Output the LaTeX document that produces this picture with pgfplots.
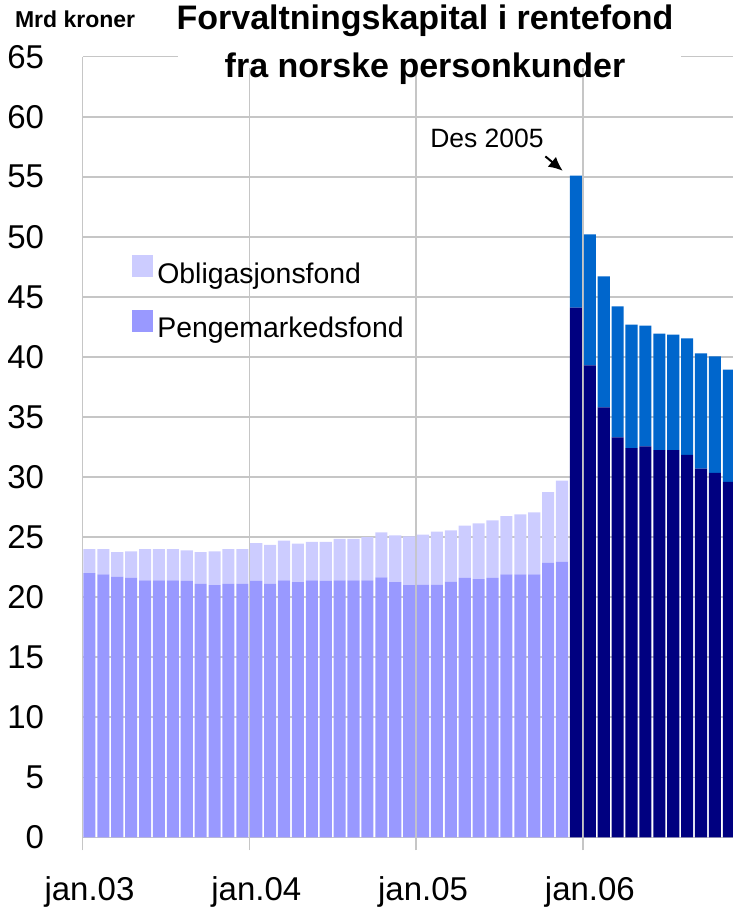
\documentclass[border=0pt]{standalone}
\usepackage{pgfplots}
\pgfplotsset{compat=1.18}
\usepackage{pgfplotstable}
\usepackage{fontspec}
\setmainfont{Liberation Sans}
\usetikzlibrary{arrows.meta}

\definecolor{oblLight}{HTML}{CCCCFF}
\definecolor{pmLight}{HTML}{9999FF}
\definecolor{pmDark}{HTML}{000080}
\definecolor{oblDark}{HTML}{0066CC}
\definecolor{gridgray}{HTML}{C6C6C6}

% month index (0 = jan.03), pengemarked / obligasjon, before and from Des 2005
\pgfplotstableread{
x  pma   obla  pmb   oblb
0  22.0  2.0   0     0
1  21.9  2.1   0     0
2  21.7  2.05  0     0
3  21.6  2.2   0     0
4  21.4  2.6   0     0
5  21.4  2.6   0     0
6  21.4  2.6   0     0
7  21.35 2.55  0     0
8  21.1  2.65  0     0
9  21.0  2.8   0     0
10 21.1  2.9   0     0
11 21.1  2.9   0     0
12 21.35 3.15  0     0
13 21.1  3.25  0     0
14 21.4  3.3   0     0
15 21.25 3.2   0     0
16 21.4  3.2   0     0
17 21.35 3.25  0     0
18 21.4  3.45  0     0
19 21.4  3.45  0     0
20 21.4  3.6   0     0
21 21.65 3.75  0     0
22 21.25 3.9   0     0
23 21.0  4.05  0     0
24 21.05 4.15  0     0
25 21.05 4.4   0     0
26 21.3  4.25  0     0
27 21.6  4.35  0     0
28 21.5  4.65  0     0
29 21.6  4.8   0     0
30 21.9  4.85  0     0
31 21.9  5.0   0     0
32 21.9  5.15  0     0
33 22.85 5.9   0     0
34 22.95 6.75  0     0
35 0     0     44.1  11.0
36 0     0     39.3  10.9
37 0     0     35.8  10.9
38 0     0     33.3  10.9
39 0     0     32.4  10.3
40 0     0     32.55 10.05
41 0     0     32.25 9.7
42 0     0     32.25 9.6
43 0     0     31.85 9.7
44 0     0     30.7  9.6
45 0     0     30.35 9.7
46 0     0     29.6  9.35
}\fondtable

\begin{document}
\begin{tikzpicture}
\useasboundingbox (0,0) rectangle (366.5pt,455pt);
\begin{axis}[
    at={(41.25pt,36.35pt)}, anchor=south west,
    scale only axis, width=325.25pt, height=390.3pt,
    ybar stacked, bar width=0.87,
    xmin=-0.5, xmax=46.3, ymin=0, ymax=65,
    axis lines=left,
    axis line style={-, draw=gridgray, line width=0.75pt},
    xtick={-0.5,11.5,23.5,35.5},
    xticklabels={jan.03,jan.04,jan.05,jan.06},
    ytick={0,5,...,65},
    xmajorgrids, ymajorgrids,
    grid style={draw=gridgray, line width=0.75pt},
    tick align=outside, major tick length=6.5pt,
    x tick style={draw=gridgray, line width=0.75pt},
    y tick style={draw=none},
    /pgf/number format/assume math mode=true,
    tick label style={font=\fontsize{16.5}{19}\selectfont},
    yticklabel style={anchor=east, inner sep=0pt, xshift=-12.5pt},
    xticklabel style={anchor=base, inner sep=0pt, xshift=3.5pt, yshift=-25pt},
    legend style={at={(0.076,0.746)}, anchor=north west, draw=none, fill=none,
        font=\fontsize{14.2}{16.5}\selectfont, row sep=10pt, inner sep=0pt},
    legend cell align=left,
    legend image code/.code={\fill[#1] (0pt,-1.5pt) rectangle (10.5pt,9.5pt);},
]
\addlegendimage{fill=oblLight, draw=none}
\addlegendimage{fill=pmLight, draw=none}
\legend{Obligasjonsfond, Pengemarkedsfond}
\addplot[fill=pmLight, draw=none] table[x=x, y=pma] {\fondtable};
\addplot[fill=oblLight, draw=none] table[x=x, y=obla] {\fondtable};
\addplot[fill=pmDark, draw=none] table[x=x, y=pmb] {\fondtable};
\addplot[fill=oblDark, draw=none] table[x=x, y=oblb] {\fondtable};

\node[anchor=base, font=\fontsize{13.25}{15}\selectfont] at (axis cs:28.6,57.4) {Des 2005};
\draw[line width=1pt, -{Latex[length=7pt,width=6.5pt]}] (axis cs:32.8,56.7) -- (axis cs:34.05,55.5);
\end{axis}

\fill[white] (89pt,421pt) rectangle (340.5pt,455pt);
\node[anchor=base, font=\fontsize{17}{20}\bfseries] at (212.5pt,440pt) {Forvaltningskapital i rentefond};
\node[anchor=base, font=\fontsize{17}{20}\bfseries] at (212.5pt,416pt) {fra norske personkunder};
\node[anchor=base west, font=\fontsize{11.5}{13}\bfseries] at (4pt,441pt) {Mrd kroner};
\end{tikzpicture}
\end{document}
